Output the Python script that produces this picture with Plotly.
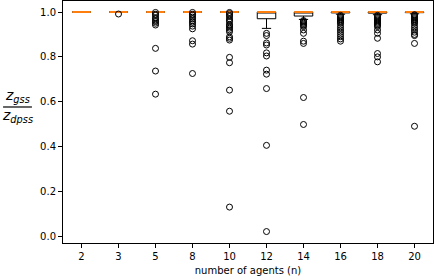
import plotly.graph_objects as go

# ---- data ----
categories = ["2", "3", "5", "8", "10", "12", "14", "16", "18", "20"]
q1 = [1.0, 1.0, 1.0, 1.0, 1.0, 0.970, 0.982, 0.996, 0.995, 0.997]
median = [1.0, 1.0, 1.0, 1.0, 1.0, 1.0, 1.0, 1.0, 1.0, 1.0]
q3 = [1.0, 1.0, 1.0, 1.0, 1.0, 1.0, 1.0, 1.0, 1.0, 1.0]
lower_whisker = [1.0, 1.0, 1.0, 1.0, 1.0, 0.927, 0.967, 0.990, 0.988, 0.992]
upper_whisker = [1.0, 1.0, 1.0, 1.0, 1.0, 1.0, 1.0, 1.0, 1.0, 1.0]

out_2 = []
out_3 = [0.991]
out_5 = [0.998, 0.99, 0.985, 0.975, 0.97, 0.962, 0.957, 0.95, 0.942, 0.838, 0.737, 0.634]
out_8 = [0.998, 0.99, 0.985, 0.977, 0.97, 0.962, 0.955, 0.947, 0.937, 0.925, 0.872, 0.857, 0.726]
out_10 = [0.998, 0.993, 0.985, 0.98, 0.97, 0.963, 0.957, 0.945, 0.94, 0.935, 0.928, 0.92,
          0.912, 0.89, 0.883, 0.875, 0.798, 0.774, 0.652, 0.558, 0.131]
out_12 = [0.905, 0.895, 0.862, 0.853, 0.818, 0.804, 0.741, 0.723, 0.659, 0.406, 0.022]
out_14 = [0.962, 0.958, 0.955, 0.95, 0.945, 0.94, 0.935, 0.92, 0.905, 0.87, 0.86, 0.619, 0.499]
out_16 = [0.985, 0.98, 0.975, 0.97, 0.965, 0.96, 0.955, 0.95, 0.94, 0.93, 0.92, 0.91,
          0.90, 0.89, 0.88, 0.87]
out_18 = [0.985, 0.98, 0.975, 0.97, 0.965, 0.96, 0.955, 0.95, 0.945, 0.94, 0.935,
          0.92, 0.905, 0.883, 0.815, 0.80, 0.778]
out_20 = [0.988, 0.985, 0.98, 0.975, 0.97, 0.965, 0.96, 0.955, 0.95, 0.94, 0.93,
          0.92, 0.91, 0.90, 0.895, 0.86, 0.491]
outliers = [out_2, out_3, out_5, out_8, out_10, out_12, out_14, out_16, out_18, out_20]

# ---- figure ----
positions = list(range(1, len(categories) + 1))
box_w = 0.5

fig = go.Figure()
fig.add_trace(go.Box(
    x=positions, q1=q1, median=median, q3=q3,
    lowerfence=lower_whisker, upperfence=upper_whisker,
    width=box_w, whiskerwidth=0.5,
    line=dict(color="black", width=1), fillcolor="rgba(0,0,0,0)",
    boxpoints=False, showlegend=False, hoverinfo="skip",
))

mx, my = [], []
for p, m in zip(positions, median):
    mx += [p - box_w / 2, p + box_w / 2, None]
    my += [m, m, None]
fig.add_trace(go.Scatter(x=mx, y=my, mode="lines",
                         line=dict(color="#ff7f0e", width=2),
                         showlegend=False, hoverinfo="skip"))

ox, oy = [], []
for p, vals in zip(positions, outliers):
    ox += [p] * len(vals)
    oy += vals
fig.add_trace(go.Scatter(x=ox, y=oy, mode="markers",
                         marker=dict(symbol="circle-open", size=6, color="black",
                                     line=dict(width=1, color="black")),
                         showlegend=False, hoverinfo="skip"))

font = dict(family="DejaVu Sans", size=10, color="black")
axis_common = dict(showline=True, mirror=True, linecolor="black", linewidth=1,
                   ticks="outside", ticklen=4, tickcolor="black", tickwidth=1,
                   showgrid=False, zeroline=False, tickfont=font)

fig.update_layout(
    width=434, height=276,
    margin=dict(l=63, r=1, t=1, b=33),
    paper_bgcolor="white", plot_bgcolor="white",
    font=font,
    xaxis=dict(range=[0.5, 10.5], tickvals=positions, ticktext=categories,
               title=dict(text="number of agents (n)", font=font, standoff=6),
               **axis_common),
    yaxis=dict(range=[-0.029, 1.049], tickvals=[0.0, 0.2, 0.4, 0.6, 0.8, 1.0],
               ticktext=["0.0", "0.2", "0.4", "0.6", "0.8", "1.0"],
               **axis_common),
)

# y-axis label as a fraction z_gss / z_dpss
lab_font = dict(family="DejaVu Sans", size=14, color="black")
fig.add_annotation(text="<i>z<sub>gss</sub></i>", xref="paper", yref="paper",
                   x=-0.124, y=0.562, xanchor="center", yanchor="bottom",
                   showarrow=False, font=lab_font)
fig.add_annotation(text="<i>z<sub>dpss</sub></i>", xref="paper", yref="paper",
                   x=-0.124, y=0.572, xanchor="center", yanchor="top",
                   showarrow=False, font=lab_font)
fig.add_shape(type="line", xref="paper", yref="paper",
              x0=-0.162, x1=-0.084, y0=0.562, y1=0.562,
              line=dict(color="black", width=1.2))

fig.write_html("out.html", config={"displayModeBar": False},
               post_script="document.body.style.margin='0';")
